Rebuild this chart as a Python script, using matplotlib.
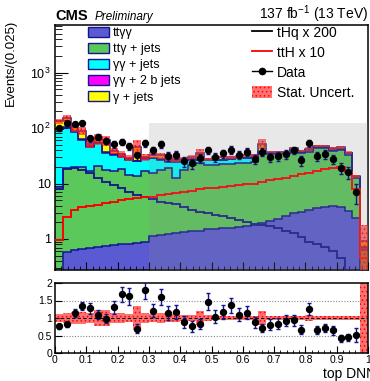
import numpy as np
import matplotlib
matplotlib.use("Agg")
import matplotlib.pyplot as plt
from matplotlib.patches import Patch, Rectangle
from matplotlib.lines import Line2D
from matplotlib.ticker import FixedLocator, FuncFormatter, MultipleLocator

plt.rcParams["font.family"] = ["Liberation Sans", "DejaVu Sans"]
plt.rcParams["mathtext.fontset"] = "custom"
plt.rcParams["mathtext.rm"] = "Liberation Sans"
plt.rcParams["mathtext.it"] = "Liberation Sans:italic"
plt.rcParams["mathtext.bf"] = "Liberation Sans:bold"
plt.rcParams["hatch.linewidth"] = 0.6

# 40 bins of width 0.025 in top DNN score
edges = np.linspace(0, 1, 41)

# backgrounds (events per bin), stacked bottom -> top
tt_gg = [0.2, 0.58, 0.62, 0.65, 0.7, 0.72, 0.75, 0.78, 0.8, 0.82,
         0.85, 0.88, 1.15, 1.2, 1.25, 1.3, 1.32, 1.38, 1.42, 1.5,
         1.5, 1.55, 1.6, 1.65, 1.7, 1.8, 1.95, 2.1, 2.3, 2.6,
         2.9, 3.1, 3.3, 3.6, 3.8, 4.0, 3.8, 3.2, 2.4, 0.01]
tt_g_jets = [8.5, 18.2, 19.4, 18.9, 16.3, 19.9, 16.8, 16.2, 17.2, 13.4,
             12.8, 15.9, 14.2, 16.3, 17.6, 11.1, 16.2, 20.2, 21.6, 20.1,
             20.1, 20.5, 20.9, 21.7, 21.8, 22.9, 33.1, 31.9, 31.7, 32.4,
             33.1, 31.9, 33.7, 39.4, 39.2, 34.0, 36.2, 29.4, 10.0, 0.62]
gg_jets = [86.3, 81.2, 65, 42.5, 29, 32.4, 18.5, 16, 12.5, 12.3,
           11.4, 11.2, 13.2, 9, 5.9, 12.3, 9, 5.4, 3.5, 4.9,
           4.9, 4.5, 5, 5, 5, 4.8, 2, 1.5, 1.5, 1,
           4, 2, 3, 2, 2, 3, 2, 2.4, 0.6, 0.07]
gg_2b_jets = [3, 3, 2, 2, 1.5, 1.5, 1.2, 1, 1, 0.8,
              0.8, 0.7, 0.7, 0.6, 0.6, 0.6, 0.5, 0.5, 0.5, 0.5,
              0.4, 0.4, 0.4, 0.4, 0.4, 0.4, 0.4, 0.4, 0.4, 0.4,
              0.3, 0.3, 0.3, 0.3, 0.3, 0.3, 0.3, 0.3, 0.1, 0.02]
g_jets = [34, 49, 16, 26, 3.5, 9.5, 22.8, 5, 2.5, 1.7,
          20.2, 0.8, 3.8, 4.9, 1.7, 2.7, 1.0, 2.5, 8, 0.2,
          2.1, 3.1, 2.1, 1.3, 3.1, 2.1, 14.6, 1.1, 1.1, 0.6,
          2.7, 1.7, 1.7, 2.7, 2.7, 1.7, 2.7, 0.7, 0.3, 0.18]

# signals (scaled)
thq_x200 = [8, 18, 19, 17.5, 15.3, 12.4, 10.5, 9.4, 8.2, 7.1,
            6.3, 5.8, 5.2, 4.7, 4.4, 4.2, 3.8, 3.3, 3.1, 2.9,
            2.7, 2.6, 2.4, 2.2, 2.05, 1.9, 1.8, 1.7, 1.6, 1.4,
            1.28, 1.1, 0.9, 0.8, 0.73, 0.6, 0.45, 0.28, 0.15, 0.05]
tth_x10 = [0.96, 2.5, 3.3, 3.7, 3.9, 4.1, 4.5, 4.7, 5.0, 5.2,
           5.5, 5.6, 5.6, 6.2, 6.4, 6.7, 7.0, 7.3, 7.8, 8.2,
           8.2, 8.5, 8.9, 9.4, 9.8, 10.0, 10.8, 11.5, 12.0, 12.7,
           13.4, 14.8, 15.7, 17.0, 18.3, 19.2, 20.0, 16.0, 8.0, 0.45]

data = [100, 125, 118, 121, 65, 70, 59, 51, 57, 47,
        32, 53, 40, 51, 31, 33, 25, 23, 29, 40,
        30, 35, 41, 33, 37, 28, 37, 30, 31, 34,
        40, 26, 53, 31, 34, 28, 19, 16, 7, 0]

# relative stat. uncertainty of the background sum
stat_unc = [0.12, 0.13, 0.18, 0.17, 0.13, 0.22, 0.22, 0.13, 0.15, 0.12,
            0.33, 0.15, 0.12, 0.13, 0.1, 0.11, 0.08, 0.08, 0.2, 0.08,
            0.07, 0.06, 0.06, 0.07, 0.06, 0.06, 0.2, 0.06, 0.06, 0.05,
            0.06, 0.05, 0.08, 0.05, 0.05, 0.05, 0.05, 0.06, 0.07, 1.0]

labels = ["tt\u03b3\u03b3", "tt\u03b3 + jets", "\u03b3\u03b3 + jets",
          "\u03b3\u03b3 + 2 b jets", "\u03b3 + jets"]
colors = ["#5a5ad2", "#5ac85a", "#00ffff", "#ff00ff", "#ffff00"]
navy = "#14148c"
unc_face = (1.0, 0.15, 0.15, 0.65)
ratio_ticks = [0, 0.1, 0.2, 0.3, 0.4, 0.5, 0.6, 0.7, 0.8, 0.9, 1]
ratio_tick_labels = ["0", "0.1", "0.2", "0.3", "0.4", "0.5", "0.6", "0.7",
                     "0.8", "0.9", "1"]

centers = 0.5 * (edges[:-1] + edges[1:])
width = edges[1] - edges[0]
data = np.array(data, dtype=float)
unc = np.array(stat_unc)

fig = plt.figure(figsize=(3.70, 3.81), dpi=100)
ax = fig.add_axes([55 / 370, 1 - 270 / 381, 313 / 370, 245 / 381])
ax2 = fig.add_axes([55 / 370, 1 - 353 / 381, 313 / 370, 70 / 381])

# stacked backgrounds
cum = np.full(len(centers), 1e-3)
for vals, col in zip([tt_gg, tt_g_jets, gg_jets, gg_2b_jets, g_jets], colors):
    top = cum + np.array(vals)
    ax.stairs(top, edges, baseline=cum, fill=True, color=col, zorder=1)
    ax.stairs(top, edges, baseline=None, color=navy, lw=1.1, zorder=2)
    cum = top
total = cum

ax.stairs(thq_x200, edges, baseline=None, color=navy, lw=1.3, zorder=3)
ax.stairs(tth_x10, edges, baseline=None, color="red", lw=1.4, zorder=3)

# stat. uncertainty boxes
lo = np.clip(total * (1 - unc), 1e-3, None)
hi = total * (1 + unc)
ax.bar(centers, hi - lo, bottom=lo, width=width, facecolor=unc_face,
       edgecolor="red", hatch="....", lw=0, zorder=4)

# grey box for the signal-like region
ax.add_patch(Rectangle((0.3, 1e-3), 0.7, 125, facecolor=(0.55, 0.55, 0.55, 0.2),
                       edgecolor="none", zorder=5))

m = data > 0
ax.errorbar(centers[m], data[m], yerr=np.sqrt(data[m]), fmt="o", color="black",
            ecolor=navy, ms=4.3, elinewidth=1.0, capsize=1.2, zorder=6)

ax.set_yscale("log")
ax.set_xlim(0, 1)
ax.set_ylim(0.276, 7200)
ax.xaxis.set_major_locator(MultipleLocator(0.1))
ax.xaxis.set_minor_locator(MultipleLocator(0.02))
ax.tick_params(axis="x", labelbottom=False)
ax.yaxis.set_major_locator(FixedLocator([1, 10, 100, 1000]))
ax.yaxis.set_major_formatter(FuncFormatter(
    lambda v, p: "1" if v == 1 else ("10" if v == 10 else "$10^{%d}$" % round(np.log10(v)))))
ax.tick_params(axis="both", which="both", direction="in", top=False, right=False)
ax.tick_params(axis="y", which="major", length=9, labelsize=9, pad=3)
ax.tick_params(axis="y", which="minor", length=5)
ax.tick_params(axis="x", which="major", length=6)
ax.tick_params(axis="x", which="minor", length=3)
for s in ax.spines.values():
    s.set_linewidth(1.1)

# legends
bkg_handles = [Patch(facecolor=c, edgecolor=navy, lw=1.0) for c in colors]
leg1 = ax.legend(bkg_handles, labels, loc="upper left", bbox_to_anchor=(0.105, 0.992),
                 frameon=False, fontsize=9, borderpad=0, borderaxespad=0,
                 handlelength=1.7, handleheight=0.8, handletextpad=0.3, labelspacing=0.32)
ax.add_artist(leg1)
sig_handles = [Line2D([], [], color="black", lw=1.3),
               Line2D([], [], color="red", lw=1.3),
               Line2D([], [], color="black", lw=1.0, marker="o", ms=4.5),
               Patch(facecolor=unc_face, edgecolor="red", hatch="....", lw=0)]
sig_labels = ["tHq x 200", "ttH x 10", "Data", "Stat. Uncert."]
ax.legend(sig_handles, sig_labels, loc="upper left", bbox_to_anchor=(0.628, 0.998),
          frameon=False, fontsize=10, borderpad=0, borderaxespad=0,
          handlelength=1.5, handleheight=1.05, handletextpad=0.3, labelspacing=0.42)

# ratio panel
ax2.bar(centers, 2 * unc, bottom=1 - unc, width=width, facecolor=unc_face,
        edgecolor="red", hatch="....", lw=0, zorder=2)
ratio = data / total
ax2.errorbar(centers[m], ratio[m], yerr=np.sqrt(data[m]) / total[m], fmt="o",
             color="black", ecolor=navy, ms=4.3, elinewidth=1.0, capsize=1.2, zorder=4)
ax2.axhline(1, color="black", lw=0.8, ls=(0, (3, 2)), zorder=3)
for yv in (0.5, 1.5):
    ax2.axhline(yv, color="#888888", lw=0.8, ls=(0, (1, 1.5)), zorder=1)
ax2.set_xlim(0, 1)
ax2.set_ylim(0, 2)
ax2.set_yticks([0, 0.5, 1, 1.5, 2])
ax2.set_yticklabels(["0", "0.5", "1", "1.5", "2"])
ax2.set_xticks(ratio_ticks)
ax2.set_xticklabels(ratio_tick_labels)
ax2.xaxis.set_minor_locator(MultipleLocator(0.02))
ax2.tick_params(axis="both", which="both", direction="in", top=False, right=False,
                labelsize=7.5, pad=2)
ax2.tick_params(axis="x", which="major", length=5, pad=1.5)
ax2.tick_params(axis="x", which="minor", length=2.5)
ax2.tick_params(axis="y", which="major", length=5)
for s in ax2.spines.values():
    s.set_linewidth(1.1)

# texts
fig.text(55 / 370, 1 - 20 / 381, "CMS", fontsize=10.5, fontweight="bold", ha="left",
         va="baseline")
fig.text(95 / 370, 1 - 20 / 381, "Preliminary", fontsize=8.5, style="italic",
         ha="left", va="baseline")
fig.text(368 / 370, 1 - 19 / 381, "137 fb$^{-1}$ (13 TeV)", fontsize=10, ha="right",
         va="baseline")
fig.text(11 / 370, 1 - 20 / 381, "Events/(0.025)", fontsize=9.5, rotation=90,
         ha="center", va="top")
fig.text(323 / 370, 1 - 378 / 381, "top DNN", fontsize=10, ha="left", va="baseline")

fig.savefig("out.png", dpi=100)
